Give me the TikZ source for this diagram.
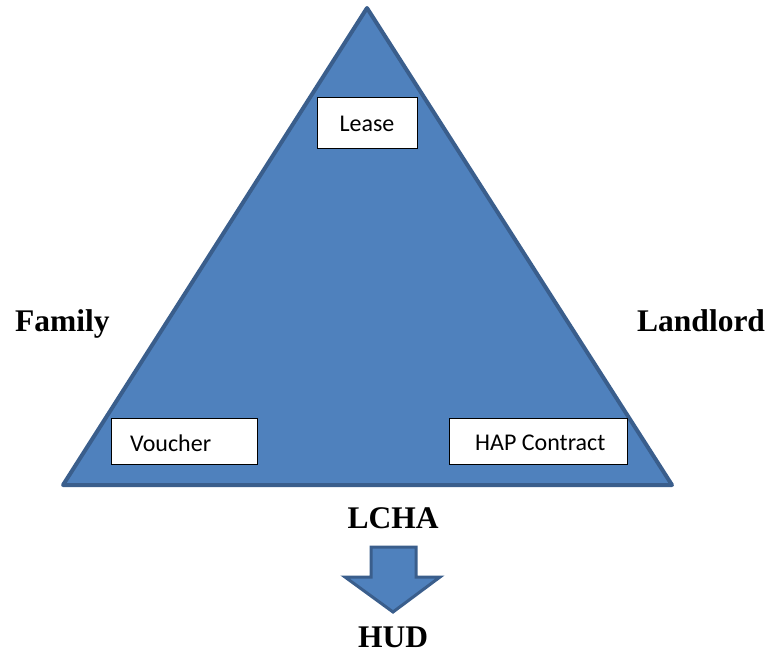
\documentclass[tikz,border=0pt]{standalone}
\usepackage{fontspec}
\setmainfont{Liberation Serif}
\newfontfamily\boxfont{Carlito}
\definecolor{triFill}{HTML}{4F81BD}
\definecolor{triLine}{HTML}{3A5E8C}
\tikzset{
  whitebox/.style={draw=black, line width=1pt, fill=white, inner sep=0pt},
  boxtext/.style={font=\boxfont\fontsize{24}{28}\selectfont, inner sep=0pt, text=black},
  title/.style={font=\bfseries\fontsize{31.5}{36}\selectfont, inner sep=0pt, text=black},
}
\begin{document}
\begin{tikzpicture}[x=1pt,y=-1pt]
\useasboundingbox (0,0) rectangle (775,656);
% triangle
\draw[triLine, line width=4pt, fill=triFill, line join=round]
  (367,8) -- (672,485) -- (63,485) -- cycle;
% boxes
\node[whitebox, minimum width=100, minimum height=51] (lease) at (367,122.5) {};
\node[boxtext] (leaset) at (367,124) {Lease};
\node[whitebox, minimum width=146, minimum height=46] (voucher) at (184,441) {};
\node[boxtext, anchor=west] (vouchert) at (130,443) {Voucher};
\node[whitebox, minimum width=178, minimum height=46] (hap) at (538,441) {};
\node[boxtext, anchor=west] (hapt) at (475,443) {HAP Contract};
% titles
\node[title, anchor=base west] (family) at (15,331) {Family};
\node[title, anchor=base west] (landlord) at (637,331) {Landlord};
\node[title, anchor=base] (lcha) at (393,528) {LCHA};
\node[title, anchor=base] (hud) at (393,647) {HUD};
% block arrow
\draw[triLine, line width=3pt, fill=triFill, line join=miter]
  (371,547) -- (416,547) -- (416,577) -- (440,577) -- (393,612)
  -- (345,577) -- (371,577) -- cycle;
\end{tikzpicture}
\end{document}
